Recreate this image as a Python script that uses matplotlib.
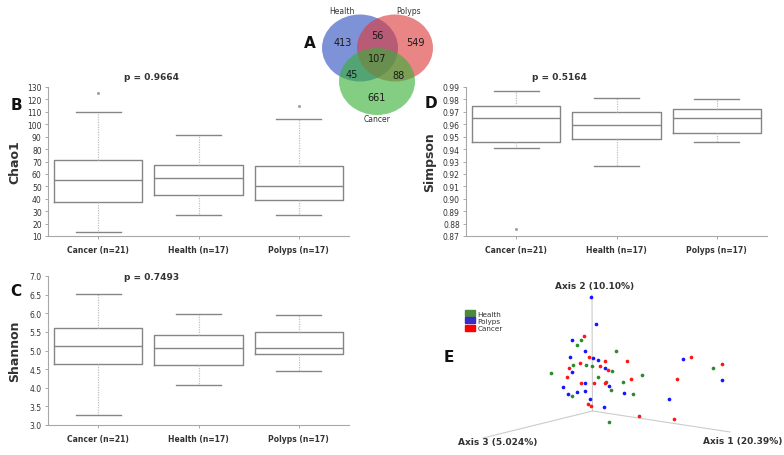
import numpy as np
import matplotlib
matplotlib.use("Agg")
import matplotlib.pyplot as plt
from matplotlib.patches import Ellipse, Patch

W, H = 784, 456

groups = ["Cancer (n=21)", "Health (n=17)", "Polyps (n=17)"]

# box plot summaries: low whisker, q1, median, q3, high whisker
chao1_lo = [13, 27, 27]
chao1_q1 = [37, 43, 39]
chao1_med = [55, 56.5, 50]
chao1_q3 = [71, 67, 66]
chao1_hi = [110, 91, 104]
chao1_out = [[125], [], [115]]

shannon_lo = [3.28, 4.07, 4.46]
shannon_q1 = [4.63, 4.60, 4.90]
shannon_med = [5.12, 5.07, 5.07]
shannon_q3 = [5.60, 5.42, 5.50]
shannon_hi = [6.52, 5.99, 5.95]
shannon_out = [[], [], []]

simpson_lo = [0.941, 0.926, 0.946]
simpson_q1 = [0.946, 0.948, 0.953]
simpson_med = [0.965, 0.959, 0.965]
simpson_q3 = [0.975, 0.970, 0.972]
simpson_hi = [0.987, 0.981, 0.980]
simpson_out = [[0.876], [], []]

# venn counts
venn_sets = ["Health", "Polyps", "Cancer"]
venn_counts = {"H": 413, "P": 549, "C": 661, "HP": 56, "HC": 45, "PC": 88, "HPC": 107}

# PCoA points, projected onto the page (relative to the origin of the 3 axes)
polyps_x = [-1.5, 3.8, -20.8, -7.2, -22.8, 0.8, 5.2, 12.2, -20.2, -29.8, 16.5, -7.5, -15.5, -7.5, -24.5, -2.2, 31.5, 11.8, 90.5, 129.2, 76.5]
polyps_y = [113.7, 87, 71, 60, 53.7, 53, 51.3, 43, 39, 23.7, 24.7, 28.3, 19, 20.3, 16.7, 12, 18.3, 4.3, 51.7, 31.3, 11.7]
cancer_x = [-8.5, -3.2, 12.5, 34.5, -12.8, -23.2, 7.5, 15.2, -25.8, 38.5, -11.2, 1.5, 12.8, -4.8, -1.2, 46.2, 98.8, 129.5, 84.8, 81.2]
cancer_y = [74.7, 54.3, 49.7, 50, 48, 43, 45.3, 41.3, 33.7, 31.7, 28.3, 28.3, 27.7, 7.3, 4.7, -4.7, 54, 47, 32, -7.7]
health_x = [-11.5, -15.2, 23.8, -19.5, -6.5, -0.8, 19.2, -41.2, 5.2, 13.8, 30.8, 49.5, 18.5, 40.8, -20.2, 16.8, 120.5]
health_y = [70.7, 65.7, 60, 45.7, 46.3, 44.7, 40, 37.7, 34, 28.7, 29, 36.3, 20.7, 17.3, 15, -10.7, 42.7]

txt = "#333333"
edge = "#858585"


def px_axes(fig, x0, y0, x1, y1):
    return fig.add_axes([x0 / W, 1 - y1 / H, (x1 - x0) / W, (y1 - y0) / H])


def box_panel(ax, lo, q1, med, q3, hi, out, ylim, yticks, fmt, ylabel, ptext, px):
    stats = []
    for i in range(3):
        stats.append(dict(whislo=lo[i], q1=q1[i], med=med[i], q3=q3[i], whishi=hi[i], fliers=out[i]))
    ax.bxp(stats, positions=[0, 1, 2], widths=0.88, capwidths=0.45,
           boxprops=dict(color=edge, lw=1.0),
           medianprops=dict(color=edge, lw=1.0),
           whiskerprops=dict(color="#c0c0c0", lw=0.9, ls=(0, (1, 1))),
           capprops=dict(color=edge, lw=1.0),
           flierprops=dict(marker="o", ms=2.2, mfc="#a0a0a0", mec="none"))
    ax.set_xlim(-0.5, 2.5)
    ax.set_ylim(*ylim)
    ax.set_yticks(yticks)
    ax.set_yticklabels([fmt % v for v in yticks])
    ax.set_xticks([0, 1, 2])
    ax.set_xticklabels(groups, fontweight="bold")
    for s in ["top", "right"]:
        ax.spines[s].set_visible(False)
    for s in ["left", "bottom"]:
        ax.spines[s].set_color("#a8a8a8")
        ax.spines[s].set_linewidth(0.8)
    ax.tick_params(axis="both", labelsize=5.5, colors="#a8a8a8", labelcolor=txt, length=2.5, width=0.7, pad=2)
    ax.tick_params(axis="x", pad=4)
    ax.set_ylabel(ylabel, fontsize=9, fontweight="bold", color=txt)
    ax.yaxis.set_label_coords(-0.088, 0.5)
    ax.text(px[0], px[1], ptext, transform=ax.transAxes, fontsize=6.5, fontweight="bold",
            color=txt, ha="center", va="center")


fig = plt.figure(figsize=(W / 100, H / 100), dpi=100)

# B
axB = px_axes(fig, 48, 88, 349, 237)
box_panel(axB, chao1_lo, chao1_q1, chao1_med, chao1_q3, chao1_hi, chao1_out,
          (10, 130), list(range(10, 131, 10)), "%d", "Chao1", "p = 0.9664", (0.345, 1.068))

# C
axC = px_axes(fig, 48, 277, 349, 426)
box_panel(axC, shannon_lo, shannon_q1, shannon_med, shannon_q3, shannon_hi, shannon_out,
          (3.0, 7.0), list(np.arange(3.0, 7.01, 0.5)), "%.1f", "Shannon", "p = 0.7493", (0.345, 1.0))

# D
axD = px_axes(fig, 466, 88, 767, 237)
box_panel(axD, simpson_lo, simpson_q1, simpson_med, simpson_q3, simpson_hi, simpson_out,
          (0.87, 0.99), list(np.arange(0.87, 0.9901, 0.01)), "%.2f", "Simpson", "p = 0.5164", (0.31, 1.068))
axD.yaxis.set_label_coords(-0.10, 0.5)

# A - venn
axA = px_axes(fig, 300, 0, 460, 130)
axA.set_xlim(300, 460)
axA.set_ylim(130, 0)
axA.axis("off")
axA.add_patch(Ellipse((360, 49), 76, 67, color="#2f4fc0", alpha=0.62, lw=0))
axA.add_patch(Ellipse((395, 49), 76, 67, color="#dc3a3a", alpha=0.62, lw=0))
axA.add_patch(Ellipse((377, 82.5), 76, 67, color="#38b038", alpha=0.62, lw=0))
vpos = {"H": (343, 43), "P": (415, 43), "C": (377, 98), "HP": (377, 36),
        "HC": (352, 75), "PC": (398, 76), "HPC": (377, 59)}
for k, v in venn_counts.items():
    axA.text(vpos[k][0], vpos[k][1], str(v), fontsize=7, color="#1a1a1a", ha="center", va="center")
axA.text(342, 12, venn_sets[0], fontsize=5.5, color=txt, ha="center", va="center")
axA.text(409, 12, venn_sets[1], fontsize=5.5, color=txt, ha="center", va="center")
axA.text(377, 120, venn_sets[2], fontsize=5.5, color=txt, ha="center", va="center")

# E - PCoA
axE = px_axes(fig, 440, 280, 784, 456)
axE.set_xlim(-152.5, 191.5)
axE.set_ylim(-44, 132)
axE.axis("off")
for end in [(-0.5, 116), (137.5, -21), (-109.5, -27)]:
    axE.plot([0, end[0]], [0, end[1]], color="#cccccc", lw=0.8, zorder=1)
axE.scatter(health_x, health_y, s=7, color="#2e8a2e", lw=0, zorder=3)
axE.scatter(polyps_x, polyps_y, s=7, color="#1515ff", lw=0, zorder=3)
axE.scatter(cancer_x, cancer_y, s=7, color="#ff1515", lw=0, zorder=3)
axE.text(2.5, 125, "Axis 2 (10.10%)", fontsize=6.5, fontweight="bold", color=txt, ha="center", va="center")
axE.text(-94.5, -31, "Axis 3 (5.024%)", fontsize=6.5, fontweight="bold", color=txt, ha="center", va="center")
axE.text(150.5, -30, "Axis 1 (20.39%)", fontsize=6.5, fontweight="bold", color=txt, ha="center", va="center")
handles = [Patch(color="#4a8a3a", label="Health"), Patch(color="#3a2ac8", label="Polyps"),
           Patch(color="#ff0000", label="Cancer")]
axE.legend(handles=handles, loc="upper left", bbox_to_anchor=(0.055, 0.86), frameon=False,
           fontsize=5.2, handlelength=1.3, handleheight=0.9, handletextpad=0.4, labelspacing=0.1,
           labelcolor=txt)

# panel letters
for lab, x, y in [("A", 310, 43), ("B", 16, 106), ("C", 16, 291), ("D", 431, 103), ("E", 449, 357)]:
    fig.text(x / W, 1 - y / H, lab, fontsize=11, fontweight="bold", color="#111111", ha="center", va="center")

fig.savefig("out.png", dpi=100)
